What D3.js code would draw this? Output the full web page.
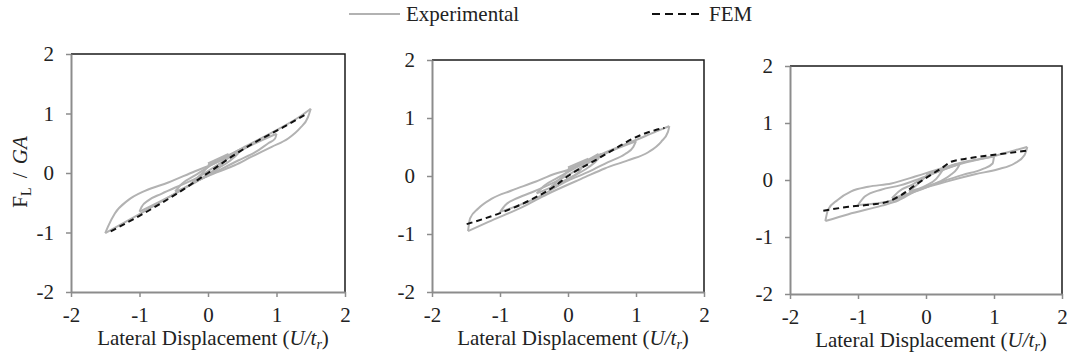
<!DOCTYPE html>
<html>
<head>
<meta charset="utf-8">
<script src="https://cdn.jsdelivr.net/npm/d3@7"></script>
<style>
  body { margin: 0; background: #fff; }
  svg { display: block; }
</style>
</head>
<body>
<div id="canvas"></div>
<script>
// tick values shared by all three panels
const xTicks = [-2, -1, 0, 1, 2];
const yTicks = [-2, -1, 0, 1, 2];

// experimental loops: every branch is a list of [U/tr, FL/GA], sorted by U/tr
const p1Exp = [
  [[-1.5,-1.01],[-1.46,-0.9],[-1.36,-0.68],[-1.17,-0.46],[-0.92,-0.3],[-0.58,-0.16],[-0.19,0.03],[0.05,0.14],[0.5,0.42],[1.0,0.72],[1.37,0.97],[1.5,1.08]],
  [[-1.5,-1.01],[-1.0,-0.69],[-0.5,-0.36],[-0.19,-0.15],[0.15,0.02],[0.39,0.13],[0.63,0.27],[0.93,0.44],[1.17,0.58],[1.34,0.75],[1.46,0.94],[1.5,1.08]],
  [[-1.0,-0.65],[-0.97,-0.57],[-0.87,-0.46],[-0.68,-0.35],[-0.43,-0.22],[-0.19,-0.1],[0.05,0.07],[0.5,0.39],[1.0,0.66]],
  [[-1.0,-0.65],[-0.5,-0.36],[-0.15,-0.13],[0.2,0.07],[0.44,0.21],[0.69,0.35],[0.88,0.5],[0.98,0.58],[1.0,0.66]],
  [[-0.48,-0.31],[-0.38,-0.18],[-0.19,-0.04],[0.0,0.1],[0.25,0.25],[0.49,0.41]],
  [[-0.48,-0.31],[-0.25,-0.2],[0.05,0.02],[0.3,0.19],[0.44,0.33],[0.49,0.41]],
  [[-0.25,-0.18],[-0.1,-0.02],[0.0,0.1],[0.25,0.24]],
  [[-0.25,-0.18],[0.0,-0.04],[0.15,0.08],[0.25,0.24]],
  [[0.0,0.13],[0.25,0.27],[0.5,0.41]],
  [[0.0,0.16],[0.3,0.32]]
];
const p1Fem = [[-1.42,-0.98],[-1.0,-0.72],[-0.7,-0.52],[-0.46,-0.35],[0,0],[0.46,0.36],[0.71,0.53],[1.1,0.77],[1.42,0.98]];

const p2Exp = [
  [[-1.47,-0.95],[-1.44,-0.73],[-1.32,-0.56],[-1.12,-0.39],[-0.83,-0.25],[-0.48,-0.1],[-0.19,0.04],[0.05,0.12],[0.5,0.38],[1.0,0.62],[1.3,0.77],[1.49,0.86]],
  [[-1.47,-0.95],[-1.17,-0.79],[-0.68,-0.54],[-0.3,-0.31],[0.25,-0.02],[0.54,0.13],[0.88,0.27],[1.18,0.41],[1.37,0.59],[1.47,0.76],[1.49,0.86]],
  [[-1.0,-0.62],[-0.92,-0.5],[-0.78,-0.4],[-0.53,-0.28],[-0.19,-0.1],[0.05,0.05],[0.5,0.36],[1.0,0.6]],
  [[-1.0,-0.62],[-0.5,-0.4],[0.0,-0.08],[0.3,0.07],[0.59,0.24],[0.84,0.38],[0.96,0.5],[1.0,0.6]],
  [[-0.46,-0.3],[-0.35,-0.17],[-0.15,-0.03],[0.05,0.1],[0.25,0.24],[0.49,0.38]],
  [[-0.46,-0.3],[-0.2,-0.17],[0.05,-0.02],[0.3,0.15],[0.44,0.29],[0.49,0.38]],
  [[-0.25,-0.19],[-0.1,-0.03],[0.0,0.08],[0.25,0.22]],
  [[-0.25,-0.19],[0.0,-0.05],[0.15,0.06],[0.25,0.22]],
  [[0.0,0.12],[0.25,0.25],[0.45,0.38]],
  [[0.0,0.15],[0.3,0.3]]
];
const p2Fem = [[-1.49,-0.83],[-1.0,-0.64],[-0.53,-0.4],[-0.19,-0.17],[0,0],[0.4,0.27],[0.69,0.47],[1.0,0.67],[1.28,0.79],[1.42,0.83]];

const p3Exp = [
  [[-1.48,-0.72],[-1.44,-0.52],[-1.3,-0.35],[-1.1,-0.2],[-0.85,-0.12],[-0.51,-0.06],[-0.16,0.06],[0.0,0.12],[0.5,0.3],[1.0,0.42],[1.3,0.52],[1.49,0.58]],
  [[-1.48,-0.72],[-1.14,-0.6],[-0.65,-0.45],[-0.41,-0.36],[-0.16,-0.2],[0.33,-0.02],[0.72,0.1],[1.06,0.19],[1.3,0.29],[1.45,0.44],[1.49,0.58]],
  [[-1.0,-0.44],[-0.9,-0.29],[-0.66,-0.17],[-0.37,-0.09],[-0.1,0.02],[0.5,0.28],[1.0,0.41]],
  [[-1.0,-0.44],[-0.5,-0.36],[-0.1,-0.16],[0.2,-0.04],[0.54,0.09],[0.83,0.19],[0.98,0.29],[1.0,0.41]],
  [[-0.5,-0.32],[-0.4,-0.2],[-0.2,-0.08],[0.0,0.06],[0.25,0.18],[0.5,0.29]],
  [[-0.5,-0.32],[-0.2,-0.22],[0.1,-0.08],[0.35,0.08],[0.46,0.2],[0.5,0.29]],
  [[-0.25,-0.2],[-0.1,-0.05],[0.0,0.06],[0.25,0.18]],
  [[-0.25,-0.2],[0.0,-0.1],[0.15,0.02],[0.25,0.18]],
  [[0.0,0.1],[0.25,0.2],[0.45,0.28]]
];
const p3Fem = [[-1.51,-0.54],[-1.14,-0.47],[-0.8,-0.43],[-0.56,-0.38],[-0.36,-0.26],[-0.16,-0.09],[0.03,0.06],[0.22,0.2],[0.37,0.32],[0.57,0.37],[0.91,0.43],[1.2,0.47],[1.5,0.52]];

const legendNames = ["Experimental", "FEM"];

// panel boxes in page pixels
const panels = [
  {exp: p1Exp, fem: p1Fem, left: 71, right: 345, top: 54, bottom: 292, yTitle: true},
  {exp: p2Exp, fem: p2Fem, left: 432, right: 704, top: 60, bottom: 292, yTitle: false},
  {exp: p3Exp, fem: p3Fem, left: 790, right: 1062, top: 66, bottom: 294, yTitle: false}
];

const W = 1067, H = 356;
const font = "'Liberation Serif', 'Times New Roman', serif";
const expColor = "#b2b2b2";

const svg = d3.select("#canvas")
  .append("svg")
  .attr("width", W)
  .attr("height", H)
  .style("font-family", font);

panels.forEach(function(p) {
  const x = d3.scaleLinear().domain([-2, 2]).range([p.left, p.right]);
  const y = d3.scaleLinear().domain([-2, 2]).range([p.bottom, p.top]);
  const g = svg.append("g");

  // frame: dark top/right edges
  g.append("path")
    .attr("d", "M" + p.left + "," + p.top + "H" + p.right + "V" + p.bottom)
    .attr("fill", "none")
    .attr("stroke", "#1a1a1a")
    .attr("stroke-width", 1.5);

  const xAxis = g.append("g")
    .attr("transform", "translate(0," + p.bottom + ")")
    .call(d3.axisBottom(x).tickValues(xTicks).tickSize(5).tickSizeOuter(0).tickPadding(10));
  const yAxis = g.append("g")
    .attr("transform", "translate(" + p.left + ",0)")
    .call(d3.axisLeft(y).tickValues(yTicks).tickSize(5).tickSizeOuter(0).tickPadding(12));

  [xAxis, yAxis].forEach(function(a) {
    a.attr("font-family", null).attr("font-size", null);
    a.select(".domain").attr("stroke", "#8c8c8c").attr("stroke-width", 2);
    a.selectAll(".tick line").attr("stroke", "#8c8c8c").attr("stroke-width", 1.5);
    a.selectAll(".tick text")
      .attr("fill", "#222")
      .style("font-family", font)
      .style("font-size", "21px")
      .text(d => d < 0 ? "-" + Math.abs(d) : d);
  });

  const line = d3.line()
    .x(d => x(d[0]))
    .y(d => y(d[1]))
    .curve(d3.curveMonotoneX);

  g.selectAll(".exp")
    .data(p.exp)
    .enter()
    .append("path")
    .attr("class", "exp")
    .attr("d", line)
    .attr("fill", "none")
    .attr("stroke", expColor)
    .attr("stroke-width", 2)
    .attr("stroke-linejoin", "round");

  g.append("path")
    .datum(p.fem)
    .attr("d", line)
    .attr("fill", "none")
    .attr("stroke", "#111")
    .attr("stroke-width", 2)
    .attr("stroke-dasharray", "6,4");

  // x axis title
  const xt = g.append("text")
    .attr("x", (p.left + p.right) / 2 + 5)
    .attr("y", p.bottom + 53)
    .attr("text-anchor", "middle")
    .attr("fill", "#222")
    .style("font-size", "21px");
  xt.append("tspan").text("Lateral Displacement (");
  xt.append("tspan").style("font-style", "italic").text("U/t");
  xt.append("tspan").style("font-style", "italic").style("font-size", "14px").attr("dy", 4).text("r");
  xt.append("tspan").attr("dy", -4).text(")");

  if (p.yTitle) {
    const yt = g.append("text")
      .attr("transform", "translate(27," + ((p.top + p.bottom) / 2 - 1) + ") rotate(-90)")
      .attr("text-anchor", "middle")
      .attr("fill", "#222")
      .style("font-size", "21px");
    yt.append("tspan").text("F");
    yt.append("tspan").style("font-size", "14px").attr("dy", 4).text("L");
    yt.append("tspan").attr("dy", -4).attr("dx", 4).text(" / ");
    yt.append("tspan").attr("dx", 3).style("font-style", "italic").text("GA");
  }
});

// legend
const legend = svg.append("g");
legend.append("line")
  .attr("x1", 349).attr("x2", 400).attr("y1", 14).attr("y2", 14)
  .attr("stroke", expColor).attr("stroke-width", 2);
legend.append("text")
  .attr("x", 406).attr("y", 21)
  .attr("fill", "#222")
  .style("font-size", "21px")
  .text(legendNames[0]);
legend.append("line")
  .attr("x1", 652).attr("x2", 701).attr("y1", 14).attr("y2", 14)
  .attr("stroke", "#111").attr("stroke-width", 2)
  .attr("stroke-dasharray", "8,5");
legend.append("text")
  .attr("x", 709).attr("y", 21)
  .attr("fill", "#222")
  .style("font-size", "21px")
  .text(legendNames[1]);
</script>
</body>
</html>
